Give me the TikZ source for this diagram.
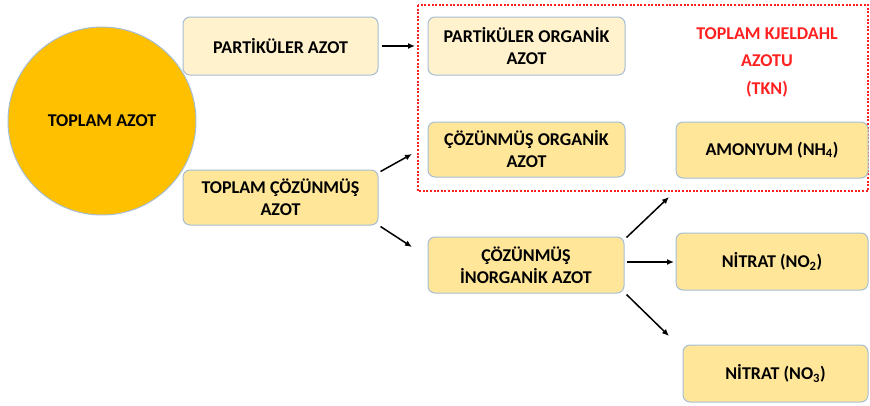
\documentclass[tikz,border=0pt]{standalone}
\usepackage{fontspec}
\setmainfont{Carlito}
\usetikzlibrary{arrows.meta}
\definecolor{boxA}{HTML}{FFF2CC}
\definecolor{boxB}{HTML}{FFE699}
\definecolor{edge}{HTML}{A7BDD3}
\definecolor{gold}{HTML}{FFC000}
\definecolor{tkn}{HTML}{FF2020}
\begin{document}
\begin{tikzpicture}[x=1pt,y=-1pt,
  font=\bfseries\fontsize{18}{22}\selectfont,
  box/.style={draw=edge, line width=1pt, rounded corners=7pt, align=center, inner sep=0pt},
  arr/.style={-{Latex[length=7pt,width=6pt]}, line width=1.5pt}]
\useasboundingbox (0,0) rectangle (870,405);
% TKN dashed frame
\draw[tkn, line width=1.3pt, dash pattern=on 2pt off 1.6pt] (418,5) rectangle (868,191);
\node[circle, fill=gold, draw=edge, line width=1pt, minimum size=188pt, inner sep=0pt] (ta) at (102,121) {TOPLAM AZOT};
\node[box, fill=boxA, minimum width=195pt, minimum height=58pt] (pa) at (280.5,46) {PARTİKÜLER AZOT};
\node[box, fill=boxB, minimum width=195pt, minimum height=55pt] (tca) at (280.5,197.5) {TOPLAM ÇÖZÜNMÜŞ\\AZOT};
\node[box, fill=boxA, minimum width=197pt, minimum height=58pt] (poa) at (526.5,46) {PARTİKÜLER ORGANİK\\AZOT};
\node[box, fill=boxB, minimum width=197pt, minimum height=55pt] (coa) at (526.5,149.5) {ÇÖZÜNMÜŞ ORGANİK\\AZOT};
\node[box, fill=boxB, minimum width=192pt, minimum height=56pt] (am) at (772,150) {AMONYUM (NH\textsubscript{4})};
\node[box, fill=boxB, minimum width=196pt, minimum height=56pt] (cia) at (526,265) {ÇÖZÜNMÜŞ\\İNORGANİK AZOT};
\node[box, fill=boxB, minimum width=192pt, minimum height=57pt] (n2) at (772,261.5) {NİTRAT (NO\textsubscript{2})};
\node[box, fill=boxB, minimum width=185pt, minimum height=57pt] (n3) at (775.5,373.5) {NİTRAT (NO\textsubscript{3})};
\node[text=tkn, align=center, font=\bfseries\fontsize{18}{27.5}\selectfont] (tk) at (767,62) {TOPLAM KJELDAHL\\AZOTU\\(TKN)};
% arrow tips
\coordinate (t1) at (415,46);
\coordinate (t2) at (412,154);
\coordinate (t3) at (412,247);
\coordinate (t4) at (669,197);
\coordinate (t5) at (674,262);
\coordinate (t6) at (669,336);
\draw[arr] ([shift={(3,0)}]pa.east) -- (t1);
\draw[arr] ([shift={(2,2)}]tca.north east) -- (t2);
\draw[arr] ([shift={(2,1)}]tca.south east) -- (t3);
\draw[arr] ([shift={(2,1)}]cia.north east) -- (t4);
\draw[arr] ([shift={(2,-3)}]cia.east) -- (t5);
\draw[arr] ([shift={(2,1)}]cia.south east) -- (t6);
\end{tikzpicture}
\end{document}
